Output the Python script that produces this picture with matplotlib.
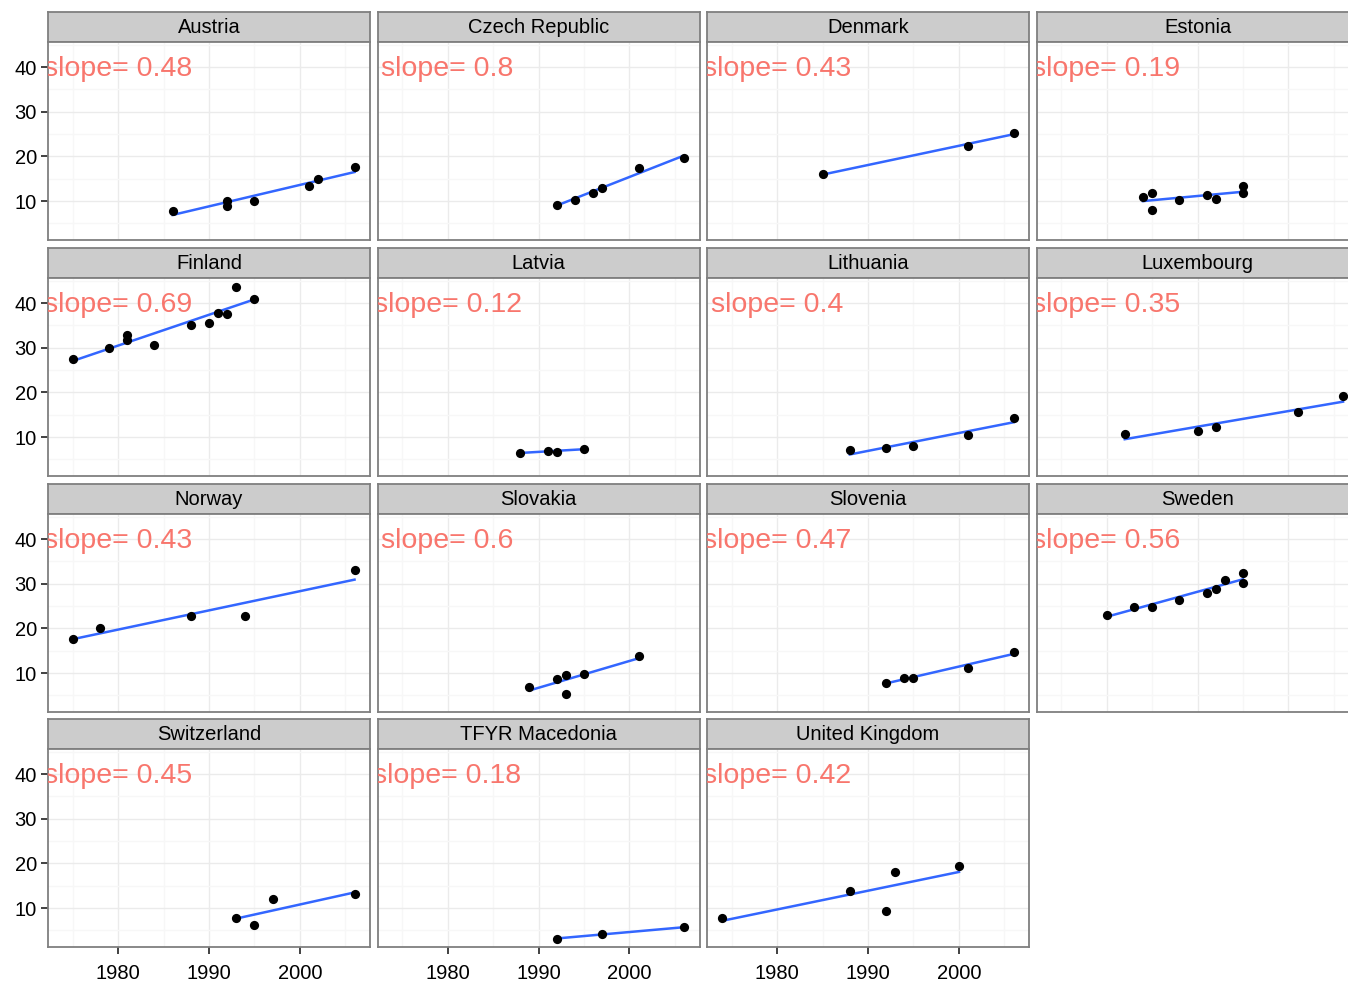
import numpy as np
import matplotlib
matplotlib.use("Agg")
import matplotlib.pyplot as plt

plt.rcParams['font.family'] = ['Liberation Sans', 'DejaVu Sans']

countries = ['Austria', 'Czech Republic', 'Denmark', 'Estonia',
             'Finland', 'Latvia', 'Lithuania', 'Luxembourg',
             'Norway', 'Slovakia', 'Slovenia', 'Sweden',
             'Switzerland', 'TFYR Macedonia', 'United Kingdom']

years = [
    [1986, 1992, 1992, 1995, 2001, 2002, 2006],
    [1992, 1994, 1996, 1997, 2001, 2006],
    [1985, 2001, 2006],
    [1984, 1985, 1985, 1988, 1991, 1992, 1995, 1995],
    [1975, 1979, 1981, 1981, 1984, 1988, 1990, 1991, 1992, 1993, 1995],
    [1988, 1991, 1992, 1995],
    [1988, 1992, 1995, 2001, 2006],
    [1982, 1990, 1992, 2001, 2006],
    [1975, 1978, 1988, 1994, 2006],
    [1989, 1992, 1993, 1993, 1995, 2001],
    [1992, 1994, 1995, 2001, 2006],
    [1980, 1983, 1985, 1988, 1991, 1992, 1993, 1995, 1995],
    [1993, 1995, 1997, 2006],
    [1992, 1997, 2006],
    [1974, 1988, 1992, 1993, 2000],
]

values = [
    [7.9, 10.1, 9.0, 10.0, 13.3, 15.0, 17.6],
    [9.2, 10.2, 11.8, 12.9, 17.5, 19.6],
    [16.0, 22.4, 25.3],
    [10.9, 11.9, 8.0, 10.3, 11.3, 10.5, 13.4, 11.9],
    [27.4, 30.0, 32.8, 31.7, 30.6, 35.0, 35.6, 37.7, 37.5, 43.5, 41.0],
    [6.5, 7.0, 6.7, 7.3],
    [7.1, 7.5, 8.0, 10.5, 14.3],
    [10.8, 11.3, 12.2, 15.6, 19.1],
    [17.7, 20.2, 22.7, 22.7, 33.0],
    [7.0, 8.6, 9.5, 5.3, 9.9, 13.8],
    [7.9, 8.9, 9.0, 11.2, 14.7],
    [23.0, 24.9, 24.8, 26.4, 28.0, 28.9, 30.8, 32.4, 30.1],
    [7.9, 6.2, 12.0, 13.1],
    [3.1, 4.1, 5.85],
    [7.7, 13.8, 9.3, 18.0, 19.4],
]

slopes = [0.48, 0.8, 0.43, 0.19, 0.69, 0.12, 0.4, 0.35,
          0.43, 0.6, 0.47, 0.56, 0.45, 0.18, 0.42]

W, H = 1348, 981
fig = plt.figure(figsize=(W / 100, H / 100), dpi=100)

col_left = [48, 377.5, 707, 1036.5]
strip_top = [12, 248, 484, 719]
pw, sh, ph = 322, 30, 198

for i, name in enumerate(countries):
    r, c = divmod(i, 4)
    x0 = col_left[c]
    y0 = strip_top[r]

    # strip with the country name
    sax = fig.add_axes([x0 / W, 1 - (y0 + sh) / H, pw / W, sh / H])
    sax.set_facecolor('#CCCCCC')
    sax.set_xticks([])
    sax.set_yticks([])
    for sp in sax.spines.values():
        sp.set_color('#7F7F7F')
        sp.set_linewidth(1.3)
    sax.text(0.5, 0.47, name, ha='center', va='center', fontsize=14.5,
             transform=sax.transAxes)

    ax = fig.add_axes([x0 / W, 1 - (y0 + sh + ph) / H, pw / W, ph / H])
    ax.set_xlim(1972.3, 2007.7)
    ax.set_ylim(1.3, 45.6)
    ax.set_xticks([1980, 1990, 2000])
    ax.set_xticks([1975, 1985, 1995, 2005], minor=True)
    ax.set_yticks([10, 20, 30, 40])
    ax.set_yticks([5, 15, 25, 35, 45], minor=True)
    ax.grid(True, which='major', color='#EBEBEB', lw=1.0)
    ax.grid(True, which='minor', color='#F7F7F7', lw=1.0)
    ax.set_axisbelow(True)
    for sp in ax.spines.values():
        sp.set_color('#7F7F7F')
        sp.set_linewidth(1.3)
    ax.tick_params(which='minor', length=0)
    ax.tick_params(which='major', length=5, width=1.3, color='#333333',
                   labelsize=14.5, labelcolor='black', pad=3)
    ax.tick_params(axis='x', pad=7)
    if c != 0:
        ax.tick_params(axis='y', length=0, labelleft=False)
    if r != 3:
        ax.tick_params(axis='x', length=0, labelbottom=False)

    x = np.array(years[i], dtype=float)
    y = np.array(values[i], dtype=float)
    # regression line with the stated slope, through the centroid
    xs = np.array([x.min(), x.max()])
    ys = y.mean() + slopes[i] * (xs - x.mean())
    ax.plot(xs, ys, color='#3366FF', lw=1.8, zorder=2)
    ax.scatter(x, y, s=44, color='black', zorder=3, linewidths=0)

    ax.text(1980, 39.6, f'slope= {slopes[i]}', color='#F8766D', fontsize=20.5,
            ha='center', va='center', clip_on=True, zorder=4)

fig.savefig('out.png', dpi=100)
